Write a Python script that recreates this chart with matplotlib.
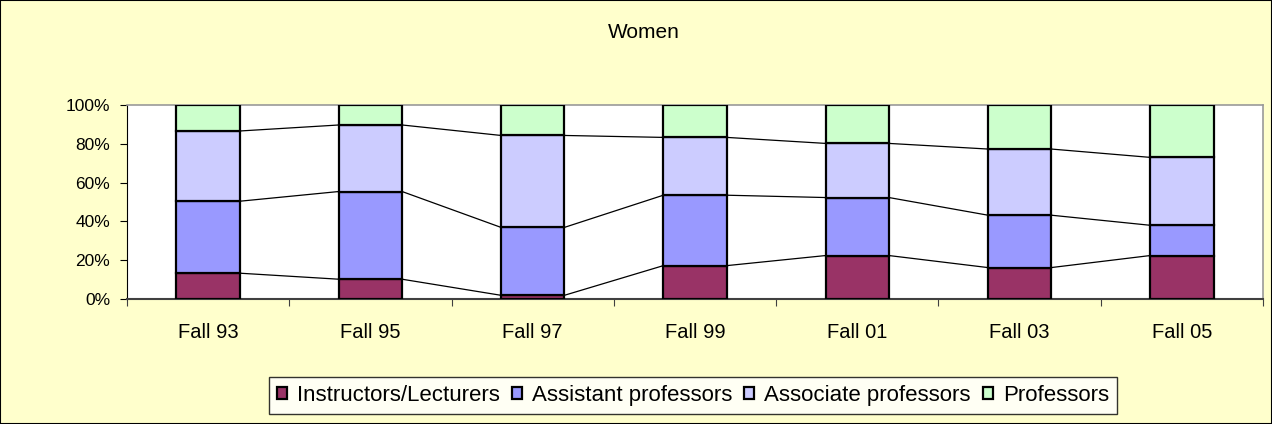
import numpy as np
import matplotlib.pyplot as plt
from matplotlib.patches import Rectangle

plt.rcParams['font.family'] = ['Liberation Sans', 'DejaVu Sans']

years = ['Fall 93', 'Fall 95', 'Fall 97', 'Fall 99', 'Fall 01', 'Fall 03', 'Fall 05']
instructors = [13.3, 10.2, 1.9, 17.2, 22.4, 16.2, 22.4]
assistant = [37.1, 45.2, 35.0, 36.3, 29.9, 27.0, 15.6]
associate = [36.2, 34.3, 47.4, 29.8, 27.9, 34.1, 35.0]
professors = [13.4, 10.3, 15.7, 16.7, 19.8, 22.7, 27.0]

series = [instructors, assistant, associate, professors]
names = ['Instructors/Lecturers', 'Assistant professors', 'Associate professors', 'Professors']
colors = ['#993366', '#9999FF', '#CCCCFF', '#CCFFCC']

W, H = 1272, 424
fig = plt.figure(figsize=(W / 100, H / 100), dpi=100, facecolor='#FFFFCC')
ax = fig.add_axes([127 / W, 1 - 299 / H, 1136 / W, 194 / H])
ax.set_facecolor('white')

ind = np.arange(len(years))
width = 0.39
bottom = np.zeros(len(years))
handles = []
for vals, name, col in zip(series, names, colors):
    vals = np.array(vals)
    b = ax.bar(ind, vals, width, bottom=bottom, color=col, edgecolor='black',
               linewidth=1.6, label=name, zorder=3)
    handles.append(b)
    bottom = bottom + vals
    # series lines joining the stacked tops
    if name != names[-1]:
        for i in range(len(years) - 1):
            ax.plot([i + width / 2, i + 1 - width / 2], [bottom[i], bottom[i + 1]],
                    color='black', linewidth=0.9, zorder=2)

ax.set_xlim(-0.5, len(years) - 0.5)
ax.set_ylim(0, 100)
ax.set_yticks([0, 20, 40, 60, 80, 100])
ax.set_yticklabels(['0%', '20%', '40%', '60%', '80%', '100%'], fontsize=12.5)
ax.set_xticks(np.arange(len(years) + 1) - 0.5, minor=False)
ax.set_xticklabels([])
ax.set_xticks(ind, minor=True)
ax.set_xticklabels(years, minor=True, fontsize=14.5)
ax.tick_params(axis='x', which='minor', length=0, pad=17)
ax.tick_params(axis='x', which='major', length=5, color='#404040')
ax.tick_params(axis='y', length=5, pad=7)

for s in ['top', 'right']:
    ax.spines[s].set_color('#999999')
    ax.spines[s].set_linewidth(1.2)
ax.spines['left'].set_color('black')
ax.spines['bottom'].set_color('#404040')
ax.spines['bottom'].set_linewidth(1.5)

fig.text(644 / W, 1 - 33 / H, 'Women', ha='center', va='center', fontsize=15)

leg = fig.legend(handles, names, loc='center', bbox_to_anchor=(693 / W, 1 - 395.5 / H),
                 ncol=4, fontsize=16, frameon=True, fancybox=False, edgecolor='black',
                 handlelength=0.45, handleheight=0.45, handletextpad=0.45, columnspacing=0.55,
                 borderpad=0.35, borderaxespad=0)
leg.get_frame().set_linewidth(1.0)

fig.patches.append(Rectangle((0, 0), 1, 1, transform=fig.transFigure, fill=False,
                             edgecolor='black', linewidth=1.5))

fig.savefig('out.png', dpi=100, facecolor=fig.get_facecolor())
